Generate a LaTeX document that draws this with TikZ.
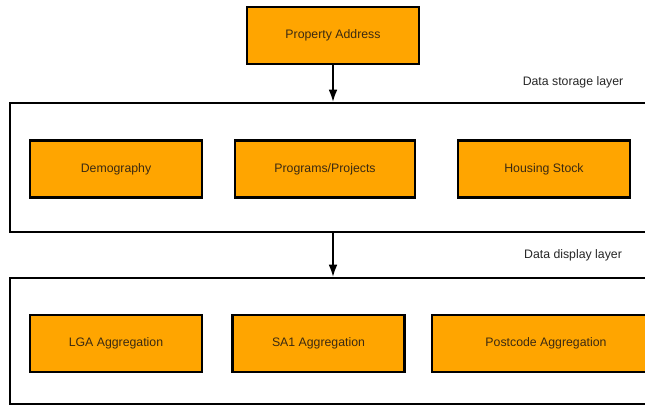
\documentclass[tikz,border=0pt]{standalone}
\usepackage{fontspec}
\setmainfont{Liberation Sans}
\usetikzlibrary{positioning,arrows.meta}
\definecolor{boxorange}{HTML}{FFA500}
\definecolor{boxtext}{HTML}{3B2A12}

\begin{document}
\begin{tikzpicture}[x=0.02cm,y=-0.02cm,
    block/.style={draw=black, line width=1.2pt, fill=boxorange, minimum width=3.44cm,
        minimum height=1.14cm, text=boxtext, font=\fontsize{7}{9}\selectfont},
    layer/.style={draw=black, line width=1.1pt, minimum width=13cm, inner sep=0pt},
    tag/.style={text=black!85, font=\fontsize{7}{9}\selectfont}]

    \clip (0,0) rectangle (645,405);

    % source
    \node[block] (addr) at (333,35.5) {Property Address};

    % storage layer
    \node[layer, minimum height=2.58cm] (store) at (335,167.5) {};
    \node[block] (demo) at (116,169) {Demography};
    \node[block, minimum width=3.6cm] (prog) at (325,169) {Programs/Projects};
    \node[block] (house) at (544,169) {Housing Stock};
    \node[tag] (storetag) at (573,82) {Data storage layer};

    % display layer
    \node[layer, minimum height=2.52cm] (show) at (335,341) {};
    \node[block] (lga) at (116,343.5) {LGA Aggregation};
    \node[block] (sa1) at (318.5,343.5) {SA1 Aggregation};
    \node[block, minimum width=4.56cm] (post) at (546,343.5) {Postcode Aggregation};
    \node[tag] (showtag) at (573,255) {Data display layer};

    % arrows
    \draw[-{Latex[length=7pt,width=5pt]}, line width=1.1pt] (addr.south) -- (addr.south |- store.north);
    \draw[-{Latex[length=7pt,width=5pt]}, line width=1.1pt] (addr.south |- store.south) -- (addr.south |- show.north);

\end{tikzpicture}
\end{document}
